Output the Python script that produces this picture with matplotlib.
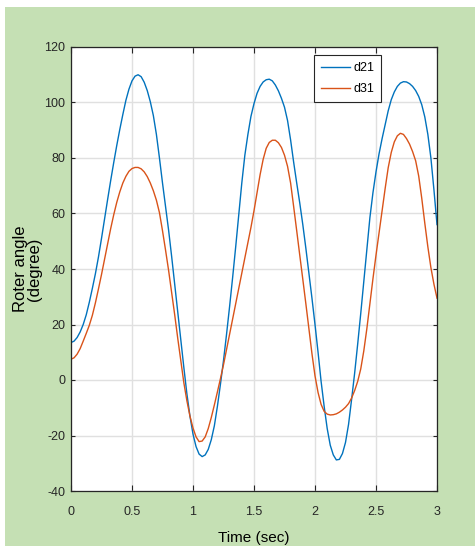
import matplotlib
matplotlib.use("Agg")
import matplotlib.pyplot as plt
from matplotlib.patches import Rectangle

plt.rcParams.update({
    "font.family": ["Liberation Sans", "DejaVu Sans"],
    "font.size": 9,
    "axes.unicode_minus": False,
    "xtick.direction": "in",
    "ytick.direction": "in",
    "xtick.top": True,
    "ytick.right": True,
})

# time (sec), read every 0.025 s
time = [0.000, 0.025, 0.050, 0.075, 0.100, 0.125, 0.150, 0.175, 0.200, 0.225,
        0.250, 0.275, 0.300, 0.325, 0.350, 0.375, 0.400, 0.425, 0.450, 0.475,
        0.500, 0.525, 0.550, 0.575, 0.600, 0.625, 0.650, 0.675, 0.700, 0.725,
        0.750, 0.775, 0.800, 0.825, 0.850, 0.875, 0.900, 0.925, 0.950, 0.975,
        1.000, 1.025, 1.050, 1.075, 1.100, 1.125, 1.150, 1.175, 1.200, 1.225,
        1.250, 1.275, 1.300, 1.325, 1.350, 1.375, 1.400, 1.425, 1.450, 1.475,
        1.500, 1.525, 1.550, 1.575, 1.600, 1.625, 1.650, 1.675, 1.700, 1.725,
        1.750, 1.775, 1.800, 1.825, 1.850, 1.875, 1.900, 1.925, 1.950, 1.975,
        2.000, 2.025, 2.050, 2.075, 2.100, 2.125, 2.150, 2.175, 2.200, 2.225,
        2.250, 2.275, 2.300, 2.325, 2.350, 2.375, 2.400, 2.425, 2.450, 2.475,
        2.500, 2.525, 2.550, 2.575, 2.600, 2.625, 2.650, 2.675, 2.700, 2.725,
        2.750, 2.775, 2.800, 2.825, 2.850, 2.875, 2.900, 2.925, 2.950, 2.975,
        3.000]

d21 = [13.5, 14.0, 15.3, 17.3, 20.0, 23.5, 28.0, 33.0, 38.3, 44.3,
       51.0, 58.0, 65.0, 71.8, 78.3, 84.5, 90.3, 95.7, 100.8, 104.8,
       107.8, 109.5, 110.0, 109.3, 107.3, 104.3, 100.3, 95.3, 88.5, 80.0,
       71.0, 62.5, 54.0, 44.5, 34.5, 24.5, 14.5, 4.5, -5.0, -13.0,
       -19.5, -24.0, -26.7, -27.6, -27.0, -25.0, -21.5, -16.5, -9.5, -1.5,
       7.0, 16.5, 26.5, 37.0, 48.0, 59.5, 71.0, 81.0, 88.5, 95.0,
       99.6, 103.3, 105.8, 107.4, 108.2, 108.4, 107.8, 106.3, 104.2, 101.5,
       98.3, 93.5, 86.5, 78.5, 71.0, 63.8, 56.0, 47.5, 38.5, 29.5,
       20.0, 10.0, -0.5, -9.5, -17.5, -23.5, -27.0, -28.8, -28.6, -26.5,
       -22.5, -16.0, -7.0, 2.5, 13.0, 24.0, 35.5, 47.0, 58.5, 67.5,
       75.0, 81.5, 87.0, 92.0, 97.0, 101.0, 103.8, 105.8, 107.0, 107.5,
       107.4, 106.8, 105.8, 104.3, 102.2, 99.2, 94.8, 88.5, 80.0, 68.5,
       56.0]

d31 = [7.5, 8.0, 9.3, 11.3, 14.0, 16.8, 19.7, 23.3, 27.8, 32.8,
       38.0, 43.5, 49.0, 54.5, 59.5, 64.0, 67.8, 71.0, 73.4, 75.2,
       76.2, 76.6, 76.6, 76.1, 75.0, 73.3, 71.0, 68.2, 64.8, 60.3,
       53.8, 46.8, 39.5, 31.5, 23.5, 15.0, 7.0, -1.0, -7.5, -13.0,
       -17.3, -20.5, -22.2, -22.0, -20.5, -17.5, -13.5, -9.0, -4.3, 0.5,
       5.5, 11.0, 16.5, 22.0, 27.5, 33.0, 38.5, 44.0, 49.5, 55.0,
       61.0, 67.5, 74.0, 79.5, 83.5, 85.6, 86.4, 86.4, 85.5, 83.8,
       81.0, 77.0, 71.0, 62.5, 53.8, 45.0, 36.3, 27.5, 18.5, 9.5,
       1.5, -4.5, -8.8, -11.3, -12.3, -12.6, -12.5, -12.2, -11.6, -10.8,
       -9.8, -8.5, -6.5, -3.8, -0.5, 4.0, 10.5, 18.5, 27.5, 36.5,
       45.0, 53.0, 61.0, 69.0, 76.5, 82.0, 85.8, 88.0, 88.9, 88.5,
       87.0, 85.0, 82.3, 79.0, 73.5, 65.5, 56.5, 48.0, 40.5, 34.5,
       29.5]

x_ticks = [0, 0.5, 1, 1.5, 2, 2.5, 3]
x_tick_labels = ["0", "0.5", "1", "1.5", "2", "2.5", "3"]
y_ticks = [-40, -20, 0, 20, 40, 60, 80, 100, 120]


def main():
    fig = plt.figure(figsize=(4.75, 5.47), dpi=100, facecolor="white")
    fig.add_artist(Rectangle((5 / 475, 1 / 547), 470 / 475, 539 / 547,
                             transform=fig.transFigure, facecolor="#C5E0B4",
                             edgecolor="none", zorder=-10))
    ax = fig.add_axes([71 / 475, 56 / 547, 366 / 475, 444 / 547])
    ax.set_facecolor("white")

    ax.plot(time, d21, color="#0072BD", lw=1.0, label="d21")
    ax.plot(time, d31, color="#D95319", lw=1.0, label="d31")

    ax.set_xlim(0, 3)
    ax.set_ylim(-40, 120)
    ax.set_xticks(x_ticks)
    ax.set_xticklabels(x_tick_labels)
    ax.set_yticks(y_ticks)
    ax.grid(True, color="#e0e0e0", lw=1.0)
    ax.set_axisbelow(True)
    for s in ax.spines.values():
        s.set_color("#262626")
        s.set_linewidth(0.9)
    ax.tick_params(axis="x", length=4.5, width=0.8, pad=11, colors="#262626")
    ax.tick_params(axis="y", length=3, width=0.8, pad=4, colors="#262626")

    ax.set_xlabel("Time (sec)", fontsize=11, labelpad=9)
    ax.set_ylabel("Roter angle\n(degree)", fontsize=12, labelpad=2,
                  linespacing=0.9)

    leg = ax.legend(loc="upper left", bbox_to_anchor=(243 / 366, 1 - 8 / 444),
                    fancybox=False, framealpha=1, edgecolor="#262626",
                    fontsize=9, handlelength=2.3, handletextpad=0.3,
                    borderaxespad=0, borderpad=0.55, labelspacing=0.75)
    leg.get_frame().set_linewidth(0.8)

    fig.savefig("out.png", dpi=100)


if __name__ == "__main__":
    main()
